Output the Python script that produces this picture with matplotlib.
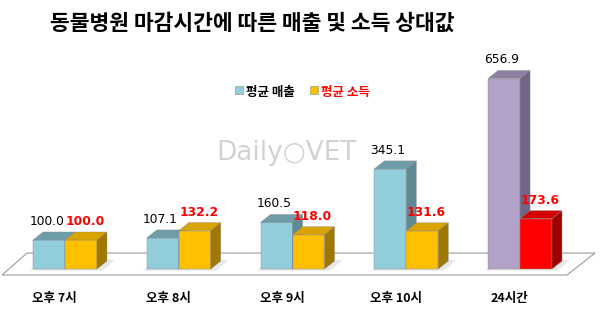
"""
Relative sales / income of animal hospitals by closing time, drawn as
pseudo-3D bars on a tilted floor.
"""
import matplotlib
matplotlib.use("Agg")
import matplotlib.pyplot as plt
from matplotlib.patches import Polygon, Rectangle

plt.rcParams["font.family"] = ["Noto Sans CJK KR", "DejaVu Sans"]

categories = ["오후 7시", "오후 8시", "오후 9시", "오후 10시", "24시간"]
sales = [100.0, 107.1, 160.5, 345.1, 656.9]
income = [100.0, 132.2, 118.0, 131.6, 173.6]

TITLE = "동물병원 마감시간에 따른 매출 및 소득 상대값"
LEGEND_LABELS = ["평균 매출", "평균 소득"]

# (front, top, side) colours
BLUE = ("#92CDDC", "#6E9DAA", "#5E8A96")
YELLOW = ("#FFC000", "#D9A300", "#A07800")
PURPLE = ("#B3A2C7", "#8E80A3", "#716586")
RED = ("#FF0000", "#D40000", "#A00000")

BAR_W = 0.281    # width of one bar, category units
DX = 0.088       # depth offset, x
DY = 27.6        # depth offset, y (value units)


def bar3d(ax, x0, h, cols):
    front, top, side = cols
    ec = dict(edgecolor="#8a8a8a", linewidth=0.3, zorder=3)
    ax.add_patch(Rectangle((x0, 0), BAR_W, h, facecolor=front, **ec))
    ax.add_patch(Polygon([(x0, h), (x0 + DX, h + DY), (x0 + BAR_W + DX, h + DY),
                          (x0 + BAR_W, h)], closed=True, facecolor=top, **ec))
    ax.add_patch(Polygon([(x0 + BAR_W, 0), (x0 + BAR_W, h), (x0 + BAR_W + DX, h + DY),
                          (x0 + BAR_W + DX, DY)], closed=True, facecolor=side, **ec))


fig = plt.figure(figsize=(6.0, 3.09), dpi=100)
ax = fig.add_axes([0, 0, 1, 1])
ax.set_xlim(-0.5714, 4.703)
ax.set_ylim(-137.9, 927.6)
ax.axis("off")

# watermark
ax.text(1.95, 400, "Daily○VET", ha="center", va="center", fontsize=19,
        color="#d2d2d2", family="DejaVu Sans", zorder=0)

# floor
floor = Polygon([(-0.554, -20.7), (4.413, -20.7), (4.659, 55.0), (-0.334, 55.0)],
                closed=True, facecolor="white", edgecolor="#a6a6a6",
                linewidth=0.9, zorder=1)
ax.add_patch(floor)
for i in range(len(categories)):
    ax.add_patch(Polygon([(i - BAR_W - 0.03, -6), (i + BAR_W + 0.05, -6),
                          (i + BAR_W + DX + 0.07, DY + 4), (i - BAR_W + DX, DY + 4)],
                         closed=True, facecolor="#e8e8e8", edgecolor="none", zorder=2))

n = len(categories)
for i, (s, inc) in enumerate(zip(sales, income)):
    last = i == n - 1
    bar3d(ax, i - BAR_W, s, PURPLE if last else BLUE)
    bar3d(ax, i, inc, RED if last else YELLOW)
    ax.text(i - BAR_W / 2 - 0.02, s + DY + 14, f"{s:.1f}", ha="center",
            va="bottom", fontsize=8.8, color="black", family="DejaVu Sans", zorder=5)
    ax.text(i + BAR_W / 2 + 0.035, inc + DY + 14, f"{inc:.1f}", ha="center",
            va="bottom", fontsize=8.8, color="#FF0000", fontweight="bold",
            family="DejaVu Sans", zorder=5)
    ax.text(i - 0.09, -100, categories[i], ha="center", va="center",
            fontsize=9, fontweight="bold", color="black", zorder=5)

# title
fig.text(0.42, 0.925, TITLE, ha="center", va="center", fontsize=15.5,
         fontweight="bold", color="black")

# legend
for lx, lab, col, tcol in [(0.392, LEGEND_LABELS[0], BLUE[0], "black"),
                           (0.517, LEGEND_LABELS[1], YELLOW[0], "#FF0000")]:
    fig.patches.append(Rectangle((lx, 0.697), 0.013, 0.026, transform=fig.transFigure,
                                 facecolor=col, edgecolor="#8a8a8a", linewidth=0.4))
    fig.text(lx + 0.018, 0.700, lab, ha="left", va="center", fontsize=9,
             fontweight="bold", color=tcol)

fig.savefig("out.png", dpi=100)
plt.close(fig)
